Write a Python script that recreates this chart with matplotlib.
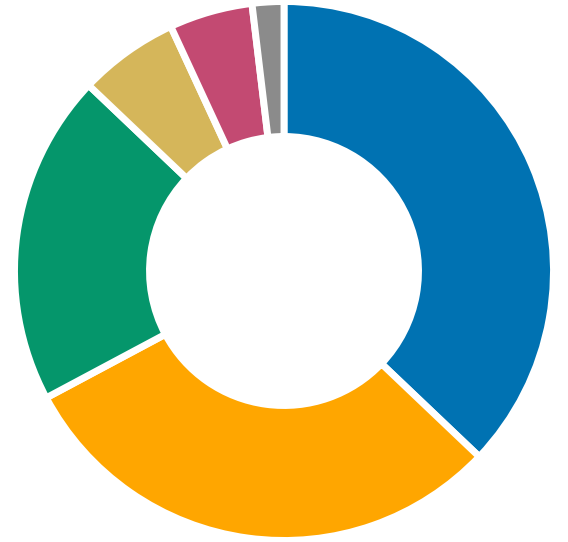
import numpy as np
import matplotlib
matplotlib.use('Agg')
import matplotlib.pyplot as plt

# slice shares (percent), clockwise from top
labels = ['A', 'B', 'C', 'D', 'E', 'F']
shares = [37.1, 30.1, 19.9, 6.0, 5.0, 1.9]
colors = ['#0072B2', '#FFA600', '#05966B', '#D5B65A', '#C34A72', '#8B8B8B']

fig = plt.figure(figsize=(5.68, 5.42), dpi=100)
ax = fig.add_axes([0, 0, 1, 1])

ax.pie(shares, colors=colors, startangle=90, counterclock=False,
       radius=1.0,
       wedgeprops=dict(width=0.501, edgecolor='white', linewidth=5))

ax.set_xlim(-284 / 269.5, 284 / 269.5)
ax.set_ylim(-271 / 269.5, 271 / 269.5)
ax.set_aspect('equal')
ax.axis('off')

fig.savefig('out.png', dpi=100)
